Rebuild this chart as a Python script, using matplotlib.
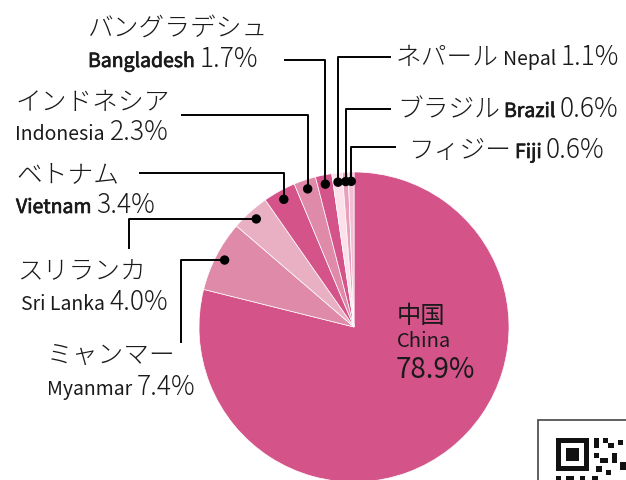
import matplotlib
matplotlib.use('Agg')
import matplotlib.pyplot as plt
from matplotlib.patches import Rectangle, Circle
import matplotlib.patheffects as pe
import numpy as np

# ---- data ----
names_ja = ['中国', 'ミャンマー', 'スリランカ', 'ベトナム', 'インドネシア',
            'バングラデシュ', 'ネパール', 'ブラジル', 'フィジー']
names_en = ['China', 'Myanmar', 'Sri Lanka', 'Vietnam', 'Indonesia',
            'Bangladesh', 'Nepal', 'Brazil', 'Fiji']
shares = [78.9, 7.4, 4.0, 3.4, 2.3, 1.7, 1.1, 0.6, 0.6]
colors = ['#d4548a', '#e08aa9', '#e9b0c4', '#d4548a', '#e08aa9',
          '#d4548a', '#fce0ea', '#ea9fbc', '#f1bfd1']

W, H = 626, 480
fig = plt.figure(figsize=(6.26, 4.8), dpi=100)
ax = fig.add_axes([0, 0, 1, 1])

def Y(y):
    return H - y

CX, CY, R = 354, Y(327), 155
wedges, _ = ax.pie(shares, colors=colors, startangle=90, counterclock=False,
                   center=(CX, CY), radius=R,
                   wedgeprops=dict(edgecolor='white', linewidth=0.5))
ax.set_xlim(0, W)
ax.set_ylim(0, H)
ax.set_aspect('equal')
ax.axis('off')

JP = ['Noto Sans CJK JP', 'DejaVu Sans']
TXT = '#1a1a1a'
renderer = fig.canvas.get_renderer()
SEMI = [pe.withStroke(linewidth=0.5, foreground=TXT)]

def row(x, y, parts, gap=5):
    """parts: list of (text, size, weight). x = left edge, y = baseline (px from top)."""
    cur = x
    for s, size, wt in parts:
        kw = {}
        fw = wt
        if wt == 'semi':
            fw = 'normal'
            kw['path_effects'] = SEMI
        t = ax.text(cur, Y(y), s, fontsize=size, fontweight=fw, family=JP,
                    va='baseline', ha='left', color=TXT, **kw)
        w = t.get_window_extent(renderer).width
        cur += w + gap
    return cur - gap

def dot_pos(i, frac=0.94):
    w = wedges[i]
    th = np.deg2rad((w.theta1 + w.theta2) / 2)
    return CX + frac * R * np.cos(th), CY + frac * R * np.sin(th)

def dot(i):
    x, y = dot_pos(i)
    ax.add_patch(Circle((x, y), 4.0, color='black', zorder=5))
    return x, y

LW = 1.4
JS = 18.5   # katakana size
ES = 14     # english size
NS = 19     # number size

def pct(v):
    return f'{v:.1f}%'

# China label (inside)
ax.text(397, Y(323), names_ja[0], fontsize=17.5, family=JP, va='baseline', ha='left', color=TXT)
ax.text(397, Y(347), names_en[0], fontsize=14.5, family=JP, va='baseline', ha='left', color=TXT)
ax.text(396, Y(378), pct(shares[0]), fontsize=20, family=JP, va='baseline', ha='left', color=TXT)

# Left side labels
# Myanmar
row(47, 363, [(names_ja[1], JS, 'light')], gap=0)
row(47, 395, [(names_en[1], ES, 'normal'), (pct(shares[1]), NS, 'light')])
x, y = dot(1)
ax.plot([x, 181, 181], [y, y, Y(342)], color='black', lw=LW)

# Sri Lanka
row(17, 279, [(names_ja[2], JS, 'light')], gap=0)
row(21, 310, [(names_en[2], ES, 'normal'), (pct(shares[2]), NS, 'light')])
x, y = dot(2)
ax.plot([x, 129, 129], [y, y, Y(248)], color='black', lw=LW)

# Vietnam
row(16, 182, [(names_ja[3], JS, 'light')], gap=0)
row(16, 213, [(names_en[3], ES, 'semi'), (pct(shares[3]), NS, 'light')])
x, y = dot(3)
ax.plot([140, x, x], [Y(173), Y(173), y], color='black', lw=LW)

# Indonesia
row(15, 110, [(names_ja[4], JS, 'light')], gap=0)
row(15, 140, [(names_en[4], ES, 'normal'), (pct(shares[4]), NS, 'light')])
x, y = dot(4)
ax.plot([182, x, x], [Y(115), Y(115), y], color='black', lw=LW)

# Bangladesh
row(88, 36, [(names_ja[5], JS, 'light')], gap=0)
row(88, 67, [(names_en[5], ES, 'semi'), (pct(shares[5]), NS, 'light')])
x, y = dot(5)
ax.plot([285, x, x], [Y(60), Y(60), y], color='black', lw=LW)

# Right side labels
# Nepal
row(396, 65, [(names_ja[6], JS, 'light'), (names_en[6], ES, 'normal'), (pct(shares[6]), NS, 'light')], gap=4)
x, y = dot(6)
ax.plot([390, x, x], [Y(57), Y(57), y], color='black', lw=LW)

# Brazil
row(397, 117, [(names_ja[7], JS, 'light'), (names_en[7], ES, 'semi'), (pct(shares[7]), NS, 'light')], gap=4)
x, y = dot(7)
ax.plot([390, x, x], [Y(109), Y(109), y], color='black', lw=LW)

# Fiji
row(408, 158, [(names_ja[8], JS, 'light'), (names_en[8], ES, 'semi'), (pct(shares[8]), NS, 'light')], gap=4)
x, y = dot(8)
ax.plot([395, x, x], [Y(147), Y(147), y], color='black', lw=LW)

# QR code decoration (bottom right, partially visible)
ax.add_patch(Rectangle((538, Y(520)), 120, 100, facecolor='white', edgecolor='#444444', lw=1.2, zorder=6))
ax.add_patch(Rectangle((556, Y(471)), 33, 33, facecolor='#111111', edgecolor='none', zorder=7))
ax.add_patch(Rectangle((561, Y(466)), 23, 23, facecolor='white', edgecolor='none', zorder=7))
ax.add_patch(Rectangle((566, Y(461)), 13, 13, facecolor='#111111', edgecolor='none', zorder=7))
for (qx, qy, qw, qh) in [(594, 438, 5, 10), (603, 438, 5, 5), (608, 443, 6, 5), (594, 453, 5, 5),
                         (600, 458, 8, 5), (612, 453, 5, 10), (596, 466, 6, 6), (606, 470, 5, 5),
                         (618, 440, 5, 5), (620, 462, 6, 8), (556, 476, 5, 4), (566, 476, 8, 4),
                         (580, 476, 5, 4), (592, 476, 6, 4)]:
    ax.add_patch(Rectangle((qx, Y(qy + qh)), qw, qh, facecolor='#111111', edgecolor='none', zorder=7))

fig.savefig('out.png', dpi=100, facecolor='white')
